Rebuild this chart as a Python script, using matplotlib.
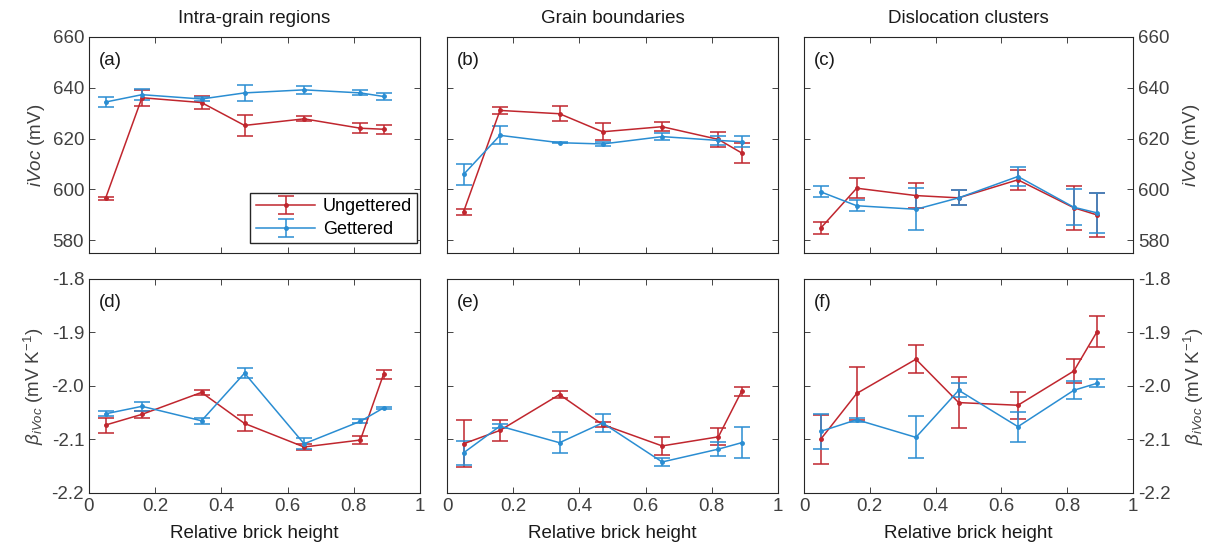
import matplotlib
matplotlib.use("Agg")
import matplotlib.pyplot as plt
import numpy as np

plt.rcParams["font.family"] = ["Liberation Sans", "DejaVu Sans"]
plt.rcParams["mathtext.fontset"] = "custom"
plt.rcParams["mathtext.rm"] = "Liberation Sans"
plt.rcParams["mathtext.it"] = "Liberation Sans:italic"

# relative brick height of the sampled wafers
height = [0.05, 0.16, 0.34, 0.47, 0.65, 0.82, 0.89]

col_titles = ["Intra-grain regions", "Grain boundaries", "Dislocation clusters"]
panel_tags = ["(a)", "(b)", "(c)", "(d)", "(e)", "(f)"]

# iVoc (mV), mean and error, per region
voc_ung = [[596.5, 636.1, 634.2, 625.2, 627.8, 624.1, 623.7],
           [591.2, 631.1, 629.8, 622.7, 624.7, 619.7, 614.4],
           [584.7, 600.5, 597.6, 596.7, 603.8, 592.8, 590.0]]
voc_ung_err = [[0.7, 3.1, 2.4, 4.0, 1.0, 1.9, 1.8],
               [1.3, 1.4, 2.9, 3.3, 1.7, 2.9, 3.8],
               [2.4, 3.9, 5.0, 2.9, 4.0, 8.6, 8.8]]
voc_get = [[634.4, 637.3, 635.6, 638.0, 639.2, 638.0, 636.6],
           [605.9, 621.3, 618.4, 617.9, 620.8, 619.3, 618.8],
           [599.1, 593.6, 592.2, 596.7, 605.1, 593.0, 590.8]]
voc_get_err = [[2.0, 2.2, 0.7, 3.3, 1.5, 1.0, 1.5],
               [4.0, 3.5, 0.3, 0.8, 1.4, 1.7, 2.1],
               [2.2, 2.1, 8.3, 3.0, 3.8, 7.0, 7.8]]

# temperature coefficient beta_iVoc (mV/K)
beta_ung = [[-2.073, -2.053, -2.012, -2.070, -2.114, -2.101, -1.978],
            [-2.108, -2.083, -2.016, -2.072, -2.112, -2.095, -2.010],
            [-2.100, -2.014, -1.950, -2.031, -2.036, -1.972, -1.899]]
beta_ung_err = [[0.014, 0.006, 0.005, 0.015, 0.0065, 0.008, 0.0085],
                [0.044, 0.019, 0.006, 0.005, 0.017, 0.016, 0.009],
                [0.046, 0.050, 0.026, 0.048, 0.025, 0.023, 0.029]]
beta_get = [[-2.052, -2.038, -2.065, -1.976, -2.108, -2.066, -2.041],
            [-2.125, -2.075, -2.106, -2.069, -2.142, -2.118, -2.106],
            [-2.085, -2.063, -2.096, -2.008, -2.076, -2.008, -1.995]]
beta_get_err = [[0.005, 0.008, 0.0055, 0.009, 0.010, 0.004, 0.002],
                [0.023, 0.004, 0.020, 0.017, 0.007, 0.013, 0.029],
                [0.032, 0.004, 0.039, 0.013, 0.028, 0.017, 0.0075]]

red = "#c0262e"
blue = "#2a8dd2"
fs = 13.5
tick_col = "#404040"
text_col = "#1a1a1a"

fig = plt.figure(figsize=(12.19, 5.53), dpi=100)

lefts = [0.073, 0.3667, 0.6596]
widths = [0.2715, 0.2715, 0.2699]

def draw(ax, y1, e1, y2, e2):
    kw = dict(marker=".", markersize=5, lw=1.1, capsize=5.5, capthick=1.1, elinewidth=1.1)
    ax.errorbar(height, y1, yerr=e1, color=red, label="Ungettered", **kw)
    ax.errorbar(height, y2, yerr=e2, color=blue, label="Gettered", **kw)

def style(ax):
    ax.set_xlim(0, 1)
    ax.set_xticks([0, 0.2, 0.4, 0.6, 0.8, 1])
    ax.set_xticklabels(["0", "0.2", "0.4", "0.6", "0.8", "1"])
    ax.tick_params(direction="in", top=True, right=True, labelsize=fs,
                   colors="#262626", labelcolor=tick_col, length=4, width=0.6)
    for s in ax.spines.values():
        s.set_color("#262626")
        s.set_linewidth(0.8)

for i in range(3):
    ax = fig.add_axes([lefts[i], 0.5425, widths[i], 0.3906])
    draw(ax, voc_ung[i], voc_ung_err[i], voc_get[i], voc_get_err[i])
    style(ax)
    ax.set_ylim(575, 660)
    ax.set_yticks([580, 600, 620, 640, 660])
    ax.tick_params(labelbottom=False)
    ax.set_title(col_titles[i], fontsize=fs, color=text_col, pad=10)
    ax.text(0.03, 0.93, panel_tags[i], transform=ax.transAxes, fontsize=fs,
            va="top", color=text_col)
    if i == 0:
        ax.set_ylabel("$iVoc$ (mV)", fontsize=fs, color=tick_col)
        ax.legend(loc="lower right", bbox_to_anchor=(0.992, 0.045), fontsize=13,
                  handlelength=3.3, fancybox=False, edgecolor="#262626",
                  borderaxespad=0, labelspacing=0.3, framealpha=1,
                  borderpad=0.3, handletextpad=0.4)
    elif i == 1:
        ax.tick_params(labelleft=False)
    else:
        ax.tick_params(labelleft=False, labelright=True)
        ax.yaxis.set_label_position("right")
        ax.set_ylabel("$iVoc$ (mV)", fontsize=fs, color=tick_col, labelpad=8)

for i in range(3):
    ax = fig.add_axes([lefts[i], 0.1085, widths[i], 0.387])
    draw(ax, beta_ung[i], beta_ung_err[i], beta_get[i], beta_get_err[i])
    style(ax)
    ax.set_ylim(-2.2, -1.8)
    ax.set_yticks([-2.2, -2.1, -2.0, -1.9, -1.8])
    ax.set_yticklabels(["-2.2", "-2.1", "-2.0", "-1.9", "-1.8"])
    ax.set_xlabel("Relative brick height", fontsize=fs, color=text_col, labelpad=7)
    ax.text(0.03, 0.93, panel_tags[i + 3], transform=ax.transAxes, fontsize=fs,
            va="top", color=text_col)
    ylab = r"$\beta_{iVoc}$ (mV K$^{-1}$)"
    if i == 0:
        ax.set_ylabel(ylab, fontsize=fs, color=tick_col)
    elif i == 1:
        ax.tick_params(labelleft=False)
    else:
        ax.tick_params(labelleft=False, labelright=True)
        ax.yaxis.set_label_position("right")
        ax.set_ylabel(ylab, fontsize=fs, color=tick_col, labelpad=8)

fig.savefig("out.png", dpi=100)
